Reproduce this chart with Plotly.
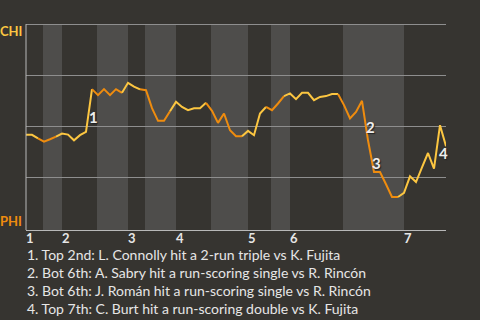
import plotly.graph_objects as go

# CHI win probability (%) after each play, play index 0..70
win_prob = [45.9, 45.9, 44.2, 42.5, 43.7, 45.0, 46.5, 46.0, 43.2, 45.7,
            47.3, 68.2, 65.3, 68.2, 65.3, 68.2, 66.4, 71.3, 69.4, 68.1,
            67.7, 58.9, 52.7, 52.7, 57.4, 62.0, 59.5, 57.9, 58.9, 58.9,
            61.5, 57.6, 51.7, 56.3, 48.1, 45.2, 45.2, 47.8, 45.7, 56.3,
            59.5, 57.9, 61.2, 64.8, 66.1, 63.3, 66.4, 66.4, 62.8, 64.4,
            64.8, 65.8, 65.8, 60.4, 53.9, 57.1, 62.5, 43.2, 27.7, 27.7,
            21.7, 15.5, 15.5, 17.5, 25.6, 22.8, 30.0, 37.0, 29.4, 50.6,
            40.3]
plays = list(range(len(win_prob)))

# half-inning start indices
top_starts = [0, 6, 17, 25, 37, 44, 63]
bot_starts = [3, 12, 20, 31, 41, 53]
inning_labels = ["1", "2", "3", "4", "5", "6", "7"]

# key plays: (play index, marker label, note)
key_play_idx = [11, 57, 60, 69]
key_play_labels = ["1", "2", "3", "4"]
key_play_notes = [
    "1. Top 2nd: L. Connolly hit a 2-run triple vs K. Fujita",
    "2. Bot 6th: A. Sabry hit a run-scoring single vs R. Rincón",
    "3. Bot 6th: J. Román hit a run-scoring single vs R. Rincón",
    "4. Top 7th: C. Burt hit a run-scoring double vs K. Fujita",
]
key_play_shift = [(1, -28), (2, 13), (-10, 21), (3, -28)]

BG = "#363430"
BAND = "#4e4d4b"
CHI_COL = "#fcc641"
PHI_COL = "#ef8c0e"
TXT = "#e6e6e6"
FONT = "Lato"
Y_MIN, Y_MAX = -0.64, 102

last = plays[-1]
fig = go.Figure()

# half-innings, each coloured by batting team
halves = sorted([(s, "top") for s in top_starts] + [(s, "bot") for s in bot_starts])
for i, (s, kind) in enumerate(halves):
    e = halves[i + 1][0] if i + 1 < len(halves) else last + 1
    i0 = max(s - 1, 0)
    i1 = min(e - 1, last)
    fig.add_trace(go.Scatter(
        x=plays[i0:i1 + 1], y=win_prob[i0:i1 + 1], mode="lines",
        line=dict(color=CHI_COL if kind == "top" else PHI_COL, width=2),
        hoverinfo="skip", showlegend=False))
    if kind == "bot":
        fig.add_shape(type="rect", xref="x", yref="y",
                      x0=s - 0.17, x1=min(e, last), y0=Y_MIN, y1=100,
                      fillcolor=BAND, line_width=0, layer="below")

annotations = []
for s, lab in zip(top_starts, inning_labels):
    annotations.append(dict(x=s, y=0, xref="x", yref="paper", text=lab,
                            showarrow=False, xanchor="left", yanchor="middle",
                            xshift=-2, yshift=-8,
                            font=dict(family=FONT, size=13, color=TXT, weight="bold")))
for idx, lab, (dx, dy) in zip(key_play_idx, key_play_labels, key_play_shift):
    annotations.append(dict(x=idx, y=win_prob[idx], xref="x", yref="y", text=lab,
                            showarrow=False, xanchor="center", yanchor="middle",
                            xshift=dx, yshift=dy,
                            font=dict(family=FONT, size=15, color="#eeeeee", weight="bold",
                                      shadow="1px 1px 1px #222")))
for k, note in enumerate(key_play_notes):
    annotations.append(dict(x=0, y=0, xref="x", yref="paper", text=note,
                            showarrow=False, xanchor="left", yanchor="middle",
                            xshift=-1, yshift=-24 - 18 * k,
                            font=dict(family=FONT, size=14, color=TXT)))
annotations.append(dict(x=0, y=100, xref="paper", yref="y", text="CHI",
                        showarrow=False, xanchor="right", yanchor="middle",
                        xshift=-2, yshift=-7,
                        font=dict(family=FONT, size=13, color=CHI_COL, weight="bold")))
annotations.append(dict(x=0, y=0, xref="paper", yref="paper", text="PHI",
                        showarrow=False, xanchor="right", yanchor="middle",
                        xshift=-2, yshift=9,
                        font=dict(family=FONT, size=13, color=PHI_COL, weight="bold")))

fig.update_layout(
    width=480, height=320,
    margin=dict(l=26, r=34, t=19.9, b=90),
    paper_bgcolor=BG, plot_bgcolor=BG,
    annotations=annotations,
    xaxis=dict(range=[0, last], showgrid=False, zeroline=False, showticklabels=False,
               showline=True, linecolor="#b8b8b8", linewidth=1, mirror=False, ticks=""),
    yaxis=dict(range=[Y_MIN, Y_MAX], tickvals=[25, 50, 75, 100], showticklabels=False,
               showgrid=True, gridcolor="#8e8e8e", gridwidth=1, zeroline=False,
               showline=False, ticks=""),
)
# left axis line, from the baseline to the top gridline
fig.add_shape(type="line", xref="paper", yref="y", x0=0, x1=0, y0=Y_MIN, y1=100,
              line=dict(color="#b8b8b8", width=1))

fig.write_html("out.html", config={"displayModeBar": False})
